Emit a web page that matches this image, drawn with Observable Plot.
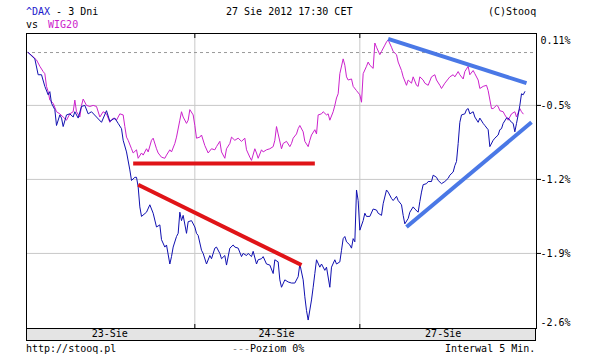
<!DOCTYPE html>
<html><head><meta charset="utf-8">
<script src="https://cdn.jsdelivr.net/npm/d3@7"></script>
<script src="https://cdn.jsdelivr.net/npm/@observablehq/plot@0.6"></script>
<style>
body{margin:0;background:#fff;}
#wrap{position:relative;width:612px;height:357px;font-family:"DejaVu Sans Mono",monospace;font-size:10px;color:#000;overflow:hidden;}
.t{position:absolute;white-space:pre;line-height:12px;}
#strip{position:absolute;left:26px;top:328px;width:508px;height:11px;background:#e4e4e4;border:1px solid #000;}
#wrap svg{position:absolute;left:0;top:0;}
</style></head><body>
<div id="wrap">
<div id="strip"></div>
<div class="t" style="left:26px;top:6px"><span style="color:#1a1acc">^DAX</span> - 3 Dni</div>
<div class="t" style="left:26px;top:19px">vs <span style="color:#cc22cc;margin-left:4px">WIG20</span></div>
<div class="t" style="left:226px;top:6px">27 Sie 2012 17:30 CET</div>
<div class="t" style="left:488px;top:6px">(C)Stooq</div>
<div class="t" style="left:26px;top:343px">http://stooq.pl</div>
<div class="t" style="left:232px;top:343px"><span style="color:#888">---</span>Poziom 0%</div>
<div class="t" style="left:445px;top:343px">Interwal 5 Min.</div>
</div>
<script>
// 5-minute bar index (0..306) and % change vs. start
const daxIdx = [1,5,7,9,11,13,14,15,17,18,20,21,22,24,26,28,29,31,33,35,37,39,42,45,48,50,53,55,57,58,60,62,63,65,66,67,68,69,72,74,76,78,80,81,83,84,86,87,88,90,91,92,93,94,96,97,99,101,102,103,105,106,108,110,111,113,114,116,117,119,120,122,124,125,127,129,130,132,133,135,136,138,139,141,142,144,146,148,149,151,152,153,155,157,159,161,163,164,166,167,168,169,171,172,173,174,176,177,179,180,182,183,185,186,188,189,190,191,192,194,195,196,197,198,199,200,202,203,204,206,208,210,211,213,214,216,217,219,220,222,223,225,226,227,229,230,232,233,235,236,237,238,240,241,243,244,246,247,249,251,253,254,256,257,258,259,260,261,263,264,265,266,268,269,271,272,274,275,277,278,280,281,283,284,285,286,288,289,291,292,293,294,295,296,297,298,299];
const daxPct = [0,-0.06,-0.21,-0.21,-0.32,-0.40,-0.37,-0.48,-0.54,-0.69,-0.59,-0.62,-0.70,-0.59,-0.58,-0.61,-0.56,-0.62,-0.51,-0.50,-0.58,-0.56,-0.61,-0.66,-0.55,-0.65,-0.62,-0.67,-0.72,-0.83,-0.94,-1.11,-1.21,-1.18,-1.18,-1.27,-1.46,-1.55,-1.51,-1.44,-1.52,-1.65,-1.63,-1.77,-1.84,-1.82,-2.00,-1.93,-1.84,-1.74,-1.71,-1.51,-1.59,-1.54,-1.71,-1.60,-1.59,-1.65,-1.71,-1.73,-1.87,-1.90,-2.00,-1.92,-1.95,-1.85,-1.84,-1.90,-1.95,-1.92,-2.01,-1.85,-1.82,-1.84,-1.85,-1.93,-1.90,-1.92,-1.90,-1.93,-1.88,-2.00,-1.96,-1.95,-1.93,-2.00,-2.01,-2.09,-1.96,-1.98,-2.15,-2.22,-2.15,-2.17,-2.18,-2.18,-2.12,-2.00,-2.15,-2.31,-2.44,-2.53,-2.34,-2.22,-2.09,-1.96,-2.03,-2.00,-2.06,-2.03,-2.22,-2.03,-1.96,-2.00,-1.98,-1.87,-1.76,-1.74,-1.79,-1.82,-1.85,-1.76,-1.79,-1.30,-1.40,-1.68,-1.59,-1.52,-1.55,-1.55,-1.48,-1.49,-1.52,-1.54,-1.43,-1.30,-1.32,-1.38,-1.40,-1.36,-1.40,-1.44,-1.54,-1.62,-1.57,-1.51,-1.46,-1.48,-1.51,-1.41,-1.32,-1.25,-1.24,-1.22,-1.22,-1.16,-1.18,-1.21,-1.24,-1.22,-1.19,-1.16,-1.13,-1.07,-1.03,-0.86,-0.66,-0.59,-0.58,-0.54,-0.53,-0.58,-0.56,-0.61,-0.66,-0.62,-0.67,-0.69,-0.73,-0.89,-0.83,-0.81,-0.78,-0.73,-0.72,-0.67,-0.62,-0.62,-0.66,-0.67,-0.75,-0.67,-0.59,-0.50,-0.39,-0.40,-0.37];
const wigIdx = [1,4,6,8,10,11,12,13,14,16,18,20,22,24,26,28,29,30,32,33,34,36,38,40,42,44,46,48,50,52,54,56,58,59,60,61,63,64,66,67,69,70,72,73,75,76,78,79,81,83,84,86,87,89,90,92,93,94,96,97,98,100,101,102,104,105,107,109,111,113,114,116,117,119,120,122,123,125,127,129,131,132,134,135,137,138,139,141,142,144,146,148,149,150,151,153,154,156,158,159,160,162,163,164,166,167,169,170,171,173,174,175,177,178,180,181,182,184,185,186,187,188,190,191,192,193,195,196,198,200,201,202,204,205,206,208,209,210,212,213,215,216,217,219,220,222,223,225,226,228,229,231,232,234,235,236,238,239,241,243,245,246,248,249,251,253,254,256,257,259,260,262,263,265,266,268,269,271,272,274,276,277,279,280,282,283,284,286,287,289,290,291,293,294,296,297,298];
const wigPct = [0,-0.04,-0.07,-0.13,-0.18,-0.20,-0.32,-0.37,-0.45,-0.48,-0.56,-0.58,-0.61,-0.64,-0.58,-0.56,-0.45,-0.56,-0.61,-0.50,-0.44,-0.50,-0.51,-0.50,-0.51,-0.61,-0.56,-0.58,-0.66,-0.62,-0.64,-0.58,-0.59,-0.70,-0.80,-0.83,-0.91,-0.95,-0.92,-1.00,-0.95,-0.97,-0.91,-0.94,-0.83,-0.81,-0.91,-0.95,-0.99,-1.00,-0.97,-0.92,-0.94,-0.86,-0.80,-0.64,-0.56,-0.61,-0.67,-0.64,-0.54,-0.59,-0.69,-0.81,-0.80,-0.78,-0.88,-0.95,-0.91,-0.92,-0.89,-0.84,-0.94,-1.00,-0.91,-0.86,-0.80,-0.83,-0.81,-0.84,-0.81,-0.92,-0.99,-1.02,-0.91,-0.95,-1.00,-0.92,-0.94,-0.92,-0.91,-0.89,-0.83,-0.70,-0.77,-0.91,-0.86,-0.84,-0.89,-0.86,-0.81,-0.77,-0.72,-0.69,-0.75,-0.84,-0.89,-0.83,-0.78,-0.73,-0.77,-0.59,-0.58,-0.56,-0.59,-0.58,-0.64,-0.56,-0.50,-0.43,-0.39,-0.20,-0.06,-0.12,-0.23,-0.26,-0.25,-0.32,-0.36,-0.40,-0.47,-0.20,-0.13,-0.09,-0.12,-0.15,0.09,0.05,-0.02,0.01,0.07,0.10,0.12,0.05,0.01,-0.02,-0.09,-0.17,-0.23,-0.31,-0.26,-0.29,-0.23,-0.31,-0.32,-0.23,-0.26,-0.29,-0.31,-0.23,-0.21,-0.26,-0.31,-0.34,-0.29,-0.25,-0.23,-0.21,-0.23,-0.18,-0.21,-0.25,-0.18,-0.13,-0.21,-0.17,-0.20,-0.26,-0.34,-0.32,-0.31,-0.36,-0.53,-0.53,-0.50,-0.51,-0.55,-0.56,-0.59,-0.64,-0.61,-0.58,-0.56,-0.61,-0.53,-0.56,-0.58];

// hand-drawn trend lines (start idx, start %, end idx, end %)
const redX1 = [64, 67], redY1 = [-1.05, -1.25], redX2 = [173, 165], redY2 = [-1.05, -2.01];
const blueX1 = [217, 228], blueY1 = [0.13, -1.65], blueX2 = [300, 303], blueY2 = [-0.29, -0.66];

const dayBounds = [101, 200];
const dayMid = [50, 150, 250];
const dayLabels = ["23-Sie", "24-Sie", "27-Sie"];
const gridVals = [-0.5, -1.2, -1.9];
const yTicks = [0.11, -0.5, -1.2, -1.9];
const yLabels = ["0.11%", "-0.5%", "-1.2%", "-1.9%"];
const yBottomTick = [-2.6];
const yBottomLabel = "-2.6%";

const dax = daxIdx.map((i, k) => ({i, v: daxPct[k]}));
const wig = wigIdx.map((i, k) => ({i, v: wigPct[k]}));
const yLab = new Map(yTicks.map((t, k) => [t, yLabels[k]]));
const xLab = new Map(dayMid.map((t, k) => [t, dayLabels[k]]));
const red = redX1.map((x, k) => ({x1: x, y1: redY1[k], x2: redX2[k], y2: redY2[k]}));
const blue = blueX1.map((x, k) => ({x1: x, y1: blueY1[k], x2: blueX2[k], y2: blueY2[k]}));

const chart = Plot.plot({
  width: 612, height: 357,
  marginLeft: 26, marginRight: 76, marginTop: 33, marginBottom: 29,
  style: {background: "transparent", fontFamily: "DejaVu Sans Mono, monospace", fontSize: "10px", color: "#000"},
  x: {domain: [0, 306]},
  y: {domain: [-2.61, 0.18]},
  marks: [
    Plot.gridY(gridVals, {stroke: "#c8c8c8", strokeOpacity: 1}),
    Plot.gridX(dayBounds, {stroke: "#c8c8c8", strokeOpacity: 1}),
    Plot.ruleY([0], {stroke: "#999", strokeDasharray: "3,3"}),
    Plot.line(wig, {x: "i", y: "v", stroke: "#cc22cc", strokeWidth: 1}),
    Plot.line(dax, {x: "i", y: "v", stroke: "#1010b0", strokeWidth: 1}),
    Plot.link(red, {x1: "x1", y1: "y1", x2: "x2", y2: "y2", stroke: "#e01418", strokeWidth: 4}),
    Plot.link(blue, {x1: "x1", y1: "y1", x2: "x2", y2: "y2", stroke: "#4a78e6", strokeWidth: 4}),
    Plot.frame({stroke: "#000"}),
    Plot.axisY(yTicks, {anchor: "right", tickSize: 0, tickPadding: 4, tickFormat: d => yLab.get(d)}),
    Plot.axisY(yBottomTick, {anchor: "right", tickSize: 0, tickPadding: 4, dy: -5, tickFormat: () => yBottomLabel}),
    Plot.axisY(gridVals, {anchor: "right", tickSize: 4, tickFormat: () => ""}),
    Plot.axisX(dayMid, {anchor: "bottom", tickSize: 0, tickPadding: 1, tickFormat: d => xLab.get(d)}),
    Plot.axisX(dayBounds, {anchor: "bottom", tickSize: -4, tickFormat: () => ""}),
    Plot.axisX(dayBounds, {anchor: "top", tickSize: -4, tickFormat: () => ""})
  ]
});
document.getElementById("wrap").appendChild(chart);
</script>
</body></html>
